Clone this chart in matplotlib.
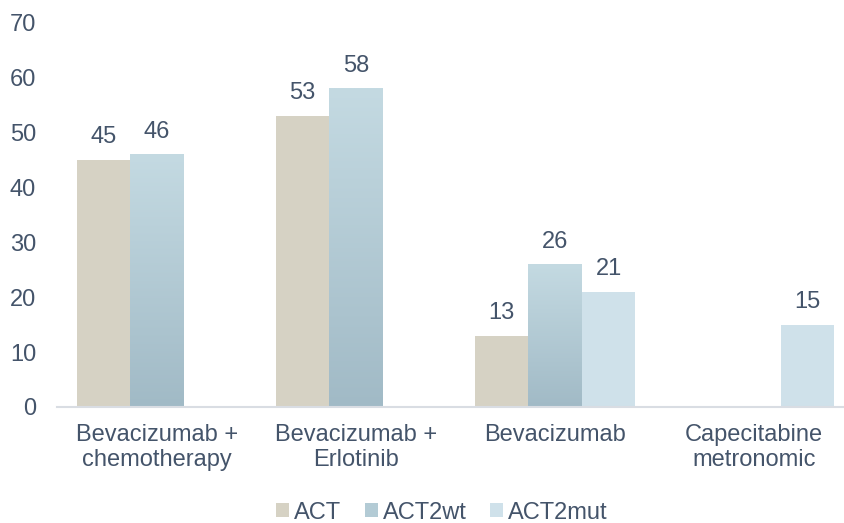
import matplotlib
matplotlib.use("Agg")
import matplotlib.pyplot as plt
import numpy as np
from matplotlib.colors import LinearSegmentedColormap
from matplotlib.patches import Patch

plt.rcParams['font.family'] = ['Liberation Sans', 'DejaVu Sans']

categories = ["Bevacizumab +\nchemotherapy", "Bevacizumab +\nErlotinib", "Bevacizumab", "Capecitabine\nmetronomic"]
series = ["ACT", "ACT2wt", "ACT2mut"]
act = [45, 53, 13, None]
act2wt = [46, 58, 26, None]
act2mut = [None, None, 21, 15]
yticks = [0, 10, 20, 30, 40, 50, 60, 70]

txt = "#44546a"
c_act = "#d6d2c4"
c_wt_top = "#c4dae2"
c_wt_bot = "#a1bac6"
c_mut = "#cfe1ea"
fs = 17

fig = plt.figure(figsize=(8.45, 5.23), dpi=100)
ax = fig.add_axes([0.0675, 0.2218, 0.9325, 0.735])

x = np.arange(len(categories))
w = 0.269
offsets = [-w, 0, w]
cmap = LinearSegmentedColormap.from_list("wt", [c_wt_bot, c_wt_top])

for si, vals in enumerate([act, act2wt, act2mut]):
    for i, v in enumerate(vals):
        if v is None:
            continue
        xc = x[i] + offsets[si]
        if si == 1:
            bar = ax.bar(xc, v, width=w, color="none", edgecolor="none")[0]
            grad = np.linspace(0, 1, 256).reshape(-1, 1)
            im = ax.imshow(grad, cmap=cmap, origin="lower", aspect="auto",
                           extent=[xc - w / 2, xc + w / 2, 0, v], zorder=2)
            im.set_clip_path(bar)
        else:
            ax.bar(xc, v, width=w, color=c_act if si == 0 else c_mut, zorder=2)
        ax.annotate(f"{v}", (xc, v), xytext=(0, 12), textcoords="offset points",
                    ha="center", va="baseline", fontsize=fs, color=txt)

ax.set_xlim(-0.5025, 3.457)
ax.set_ylim(0, 70)
ax.set_yticks(yticks)
ax.set_xticks(x)
ax.set_xticklabels(categories, fontsize=fs, color=txt, linespacing=1.2)
ax.tick_params(axis="y", length=0, pad=15, labelsize=fs, labelcolor=txt)
ax.tick_params(axis="x", length=0, pad=12)
for s in ["top", "right", "left"]:
    ax.spines[s].set_visible(False)
ax.spines["bottom"].set_color("#d9dde3")
ax.spines["bottom"].set_linewidth(1.5)

handles = [Patch(facecolor=c_act), Patch(facecolor="#b3cbd5"), Patch(facecolor=c_mut)]
fig.legend(handles, series, loc="center", bbox_to_anchor=(0.523, 0.02), ncol=3,
           frameon=False, fontsize=fs, labelcolor=txt, handlelength=0.55,
           handleheight=0.55, handletextpad=0.2, columnspacing=1.0,
           borderpad=0, borderaxespad=0)

fig.savefig("out.png", dpi=100)
